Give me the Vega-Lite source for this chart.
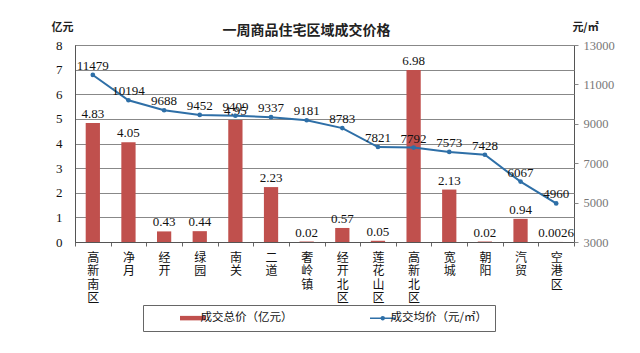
{
  "$schema": "https://vega.github.io/schema/vega-lite/v6.json",
  "autosize": {"type": "none"},
  "width": 499,
  "height": 197,
  "padding": {"left": 75, "top": 45, "right": 66, "bottom": 111},
  "background": "white",
  "config": {
    "font": "Noto Sans CJK SC",
    "view": {"stroke": "#555", "strokeWidth": 1}
  },
  "title": {
    "text": "一周商品住宅区域成交价格",
    "font": "Noto Sans CJK SC",
    "fontSize": 14,
    "fontWeight": "bold",
    "color": "#222",
    "anchor": "middle",
    "frame": "group",
    "dx": -18,
    "dy": 21,
    "offset": 4
  },
  "data": {
    "values": [
      {"district": "高新南区", "total": 4.83, "avg": 11479},
      {"district": "净月", "total": 4.05, "avg": 10194},
      {"district": "经开", "total": 0.43, "avg": 9688},
      {"district": "绿园", "total": 0.44, "avg": 9452},
      {"district": "南关", "total": 4.95, "avg": 9409},
      {"district": "二道", "total": 2.23, "avg": 9337},
      {"district": "奢岭镇", "total": 0.02, "avg": 9181},
      {"district": "经开北区", "total": 0.57, "avg": 8783},
      {"district": "莲花山区域", "total": 0.05, "avg": 7821},
      {"district": "高新北区", "total": 6.98, "avg": 7792},
      {"district": "宽城", "total": 2.13, "avg": 7573},
      {"district": "朝阳", "total": 0.02, "avg": 7428},
      {"district": "汽贸", "total": 0.94, "avg": 6067},
      {"district": "空港区", "total": 0.0026, "avg": 4960}
    ]
  },
  "encoding": {
    "x": {
      "field": "district",
      "type": "nominal",
      "sort": null,
      "scale": {"type": "band", "paddingInner": 0, "paddingOuter": 0},
      "axis": {
        "title": null,
        "labelAngle": 0,
        "labelExpr": "split(datum.label, '')",
        "labelFont": "Noto Sans CJK SC",
        "labelFontSize": 12,
        "labelLineHeight": 13.5,
        "labelBaseline": "top",
        "labelColor": "#111",
        "labelPadding": 6,
        "tickBand": "extent",
        "tickSize": 4,
        "tickColor": "#666",
        "domainColor": "#555",
        "grid": false
      }
    }
  },
  "layer": [
    {
      "encoding": {
        "y": {
          "field": "total",
          "type": "quantitative",
          "scale": {"domain": [0, 8], "nice": false},
          "axis": {
            "title": "亿元",
            "titleAngle": 0,
            "titleX": -13,
            "titleY": -18,
            "titleAlign": "center",
            "titleBaseline": "middle",
            "titleFont": "Noto Sans CJK SC",
            "titleFontSize": 11,
            "titleFontWeight": "bold",
            "titleColor": "#222",
            "values": [0, 1, 2, 3, 4, 5, 6, 7, 8],
            "format": "d",
            "labelOverlap": false,
            "ticks": false,
            "labelPadding": 13,
            "labelFont": "Liberation Serif",
            "labelFontSize": 13,
            "labelColor": "#111",
            "grid": true,
            "gridColor": "#888",
            "domainColor": "#555"
          }
        }
      },
      "layer": [
        {
          "mark": {"type": "bar", "width": {"band": 0.4}},
          "encoding": {
            "color": {
              "datum": "成交总价（亿元）",
              "type": "nominal",
              "scale": {
                "domain": ["成交总价（亿元）", "成交均价（元/㎡）"],
                "range": ["#C0504D", "#2E6FA7"]
              },
              "legend": {
                "title": null,
                "orient": "none",
                "legendX": 68,
                "legendY": 260,
                "direction": "horizontal",
                "columns": 2,
                "columnPadding": 47,
                "padding": 7,
                "strokeColor": "#666",
                "fillColor": "white",
                "symbolSize": 900,
                "symbolOffset": 37,
                "labelOffset": 2,
                "labelFont": "Noto Sans CJK SC",
                "labelFontSize": 11.5,
                "labelColor": "#111",
                "encode": {
                  "symbols": {
                    "update": {
                      "shape": {"signal": "datum.value === '成交总价（亿元）' ? 'M-0.85,-0.15H0.85V0.15H-0.85Z' : 'M-0.85,0H0.85M-0.1,0A0.1,0.1,0,1,0,0.1,0A0.1,0.1,0,1,0,-0.1,0'"},
                      "fill": {"signal": "datum.value === '成交总价（亿元）' ? '#C0504D' : '#1F5A8A'"},
                      "stroke": {"signal": "datum.value === '成交总价（亿元）' ? 'transparent' : '#2E6FA7'"},
                      "strokeWidth": {"signal": "datum.value === '成交总价（亿元）' ? 0 : 1.5"},
                      "opacity": {"value": 1},
                      "fillOpacity": {"value": 1}
                    }
                  }
                }
              }
            }
          }
        },
        {
          "mark": {"type": "text", "baseline": "alphabetic", "dy": -5, "font": "Liberation Serif", "fontSize": 13, "color": "#111"},
          "encoding": {
            "text": {"field": "total", "type": "quantitative", "format": ".6~g"}
          }
        }
      ]
    },
    {
      "encoding": {
        "y": {
          "field": "avg",
          "type": "quantitative",
          "scale": {"domain": [3000, 13000], "nice": false},
          "axis": {
            "orient": "right",
            "title": "元/㎡",
            "titleAngle": 0,
            "titleX": 11,
            "titleY": -18,
            "titleAlign": "center",
            "titleBaseline": "middle",
            "titleFont": "Noto Sans CJK SC",
            "titleFontSize": 11,
            "titleFontWeight": "bold",
            "titleColor": "#222",
            "values": [3000, 5000, 7000, 9000, 11000, 13000],
            "format": "d",
            "labelOverlap": false,
            "domain": false,
            "ticks": true,
            "tickSize": 4,
            "tickColor": "#888",
            "labelPadding": 5,
            "labelFont": "Liberation Serif",
            "labelFontSize": 12.5,
            "labelColor": "#777",
            "grid": false
          }
        }
      },
      "layer": [
        {
          "mark": {"type": "line", "strokeWidth": 2, "point": {"filled": true, "size": 22, "color": "#1F5A8A"}},
          "encoding": {
            "color": {"datum": "成交均价（元/㎡）", "type": "nominal"}
          }
        },
        {
          "mark": {"type": "text", "baseline": "alphabetic", "dy": -5, "font": "Liberation Serif", "fontSize": 13, "color": "#111"},
          "encoding": {
            "text": {"field": "avg", "type": "quantitative", "format": ".6~g"}
          }
        }
      ]
    }
  ],
  "resolve": {"scale": {"y": "independent"}}
}
